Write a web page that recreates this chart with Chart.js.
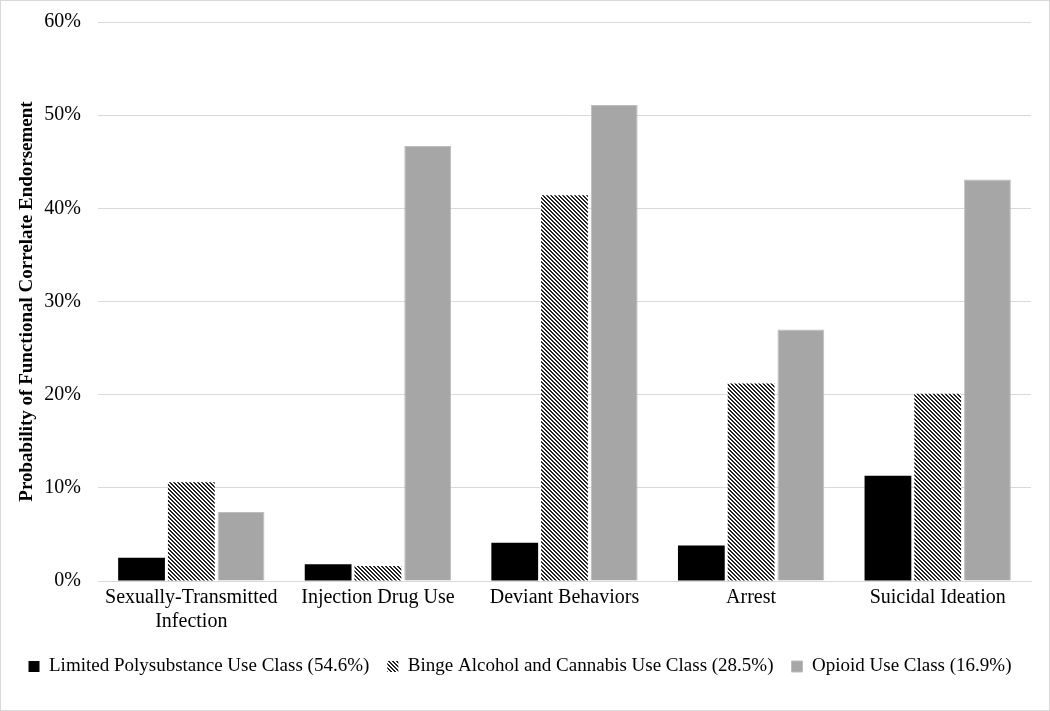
<!DOCTYPE html>
<html>
<head>
<meta charset="utf-8">
<script src="https://cdn.jsdelivr.net/npm/chart.js@4"></script>
<style>
  html, body { margin: 0; padding: 0; background: #fff; }
  #wrap { width: 1048px; height: 709px; border: 1px solid #d9d9d9; }
</style>
</head>
<body>
<div id="wrap"><canvas id="chart" width="1048" height="709"></canvas></div>
<script>
// Categories and series (percent)
const categories = [['Sexually-Transmitted', 'Infection'], 'Injection Drug Use', 'Deviant Behaviors', 'Arrest', 'Suicidal Ideation'];
const limitedPoly = [2.5, 1.8, 4.1, 3.8, 11.3];
const bingeAlcohol = [10.6, 1.6, 41.4, 21.2, 20.1];
const opioidUse = [7.4, 46.7, 51.1, 27.0, 43.1];
const seriesNames = [
    'Limited Polysubstance Use Class (54.6%)',
    'Binge Alcohol and Cannabis Use Class (28.5%)',
    'Opioid Use Class (16.9%)'
];

// Dense diagonal hatch like the original
function makeHatch() {
    const c = document.createElement('canvas');
    c.width = 4; c.height = 4;
    const g = c.getContext('2d');
    g.fillStyle = '#ffffff';
    g.fillRect(0, 0, 4, 4);
    g.fillStyle = '#222222';
    for (let i = 0; i < 4; i++) {
        g.fillRect(i, i % 4, 1, 1);
        g.fillRect(i, (i + 1) % 4, 1, 1);
    }
    return g.createPattern(c, 'repeat');
}

const ctx = document.getElementById('chart').getContext('2d');
const hatch = makeHatch();
const font = 'Liberation Serif, Times New Roman, serif';

new Chart(ctx, {
    type: 'bar',
    data: {
        labels: categories,
        datasets: [
            { label: seriesNames[0], data: limitedPoly, backgroundColor: '#000000' },
            { label: seriesNames[1], data: bingeAlcohol, backgroundColor: hatch },
            { label: seriesNames[2], data: opioidUse, backgroundColor: '#a6a6a6', borderColor: '#bdbdbd', borderWidth: 1 }
        ]
    },
    options: {
        responsive: false,
        animation: false,
        layout: { padding: { top: 21, right: 18, left: 8, bottom: 24 } },
        datasets: {
            bar: { categoryPercentage: 0.8, barPercentage: 0.94 }
        },
        scales: {
            x: {
                grid: { display: false, drawTicks: false },
                border: { color: '#d9d9d9' },
                ticks: { color: '#000', font: { family: font, size: 20 }, padding: 5, maxRotation: 0, autoSkip: false }
            },
            y: {
                min: 0, max: 60,
                afterFit: scale => { scale.width = 89; scale.paddingTop = 0; },
                ticks: { stepSize: 10, color: '#000', font: { family: font, size: 20 }, padding: 17, callback: v => v + '%' },
                grid: { color: '#d9d9d9', drawTicks: false },
                border: { display: false },
                title: { display: true, text: 'Probability of Functional Correlate Endorsement', color: '#000', font: { family: font, size: 19, weight: 'bold' }, padding: { top: 7, bottom: 5 } }
            }
        },
        plugins: {
            legend: {
                position: 'bottom',
                labels: { color: '#000', font: { family: font, size: 19 }, boxWidth: 11, boxHeight: 11, padding: 18 }
            },
            tooltip: { enabled: false }
        }
    }
});
</script>
</body>
</html>
